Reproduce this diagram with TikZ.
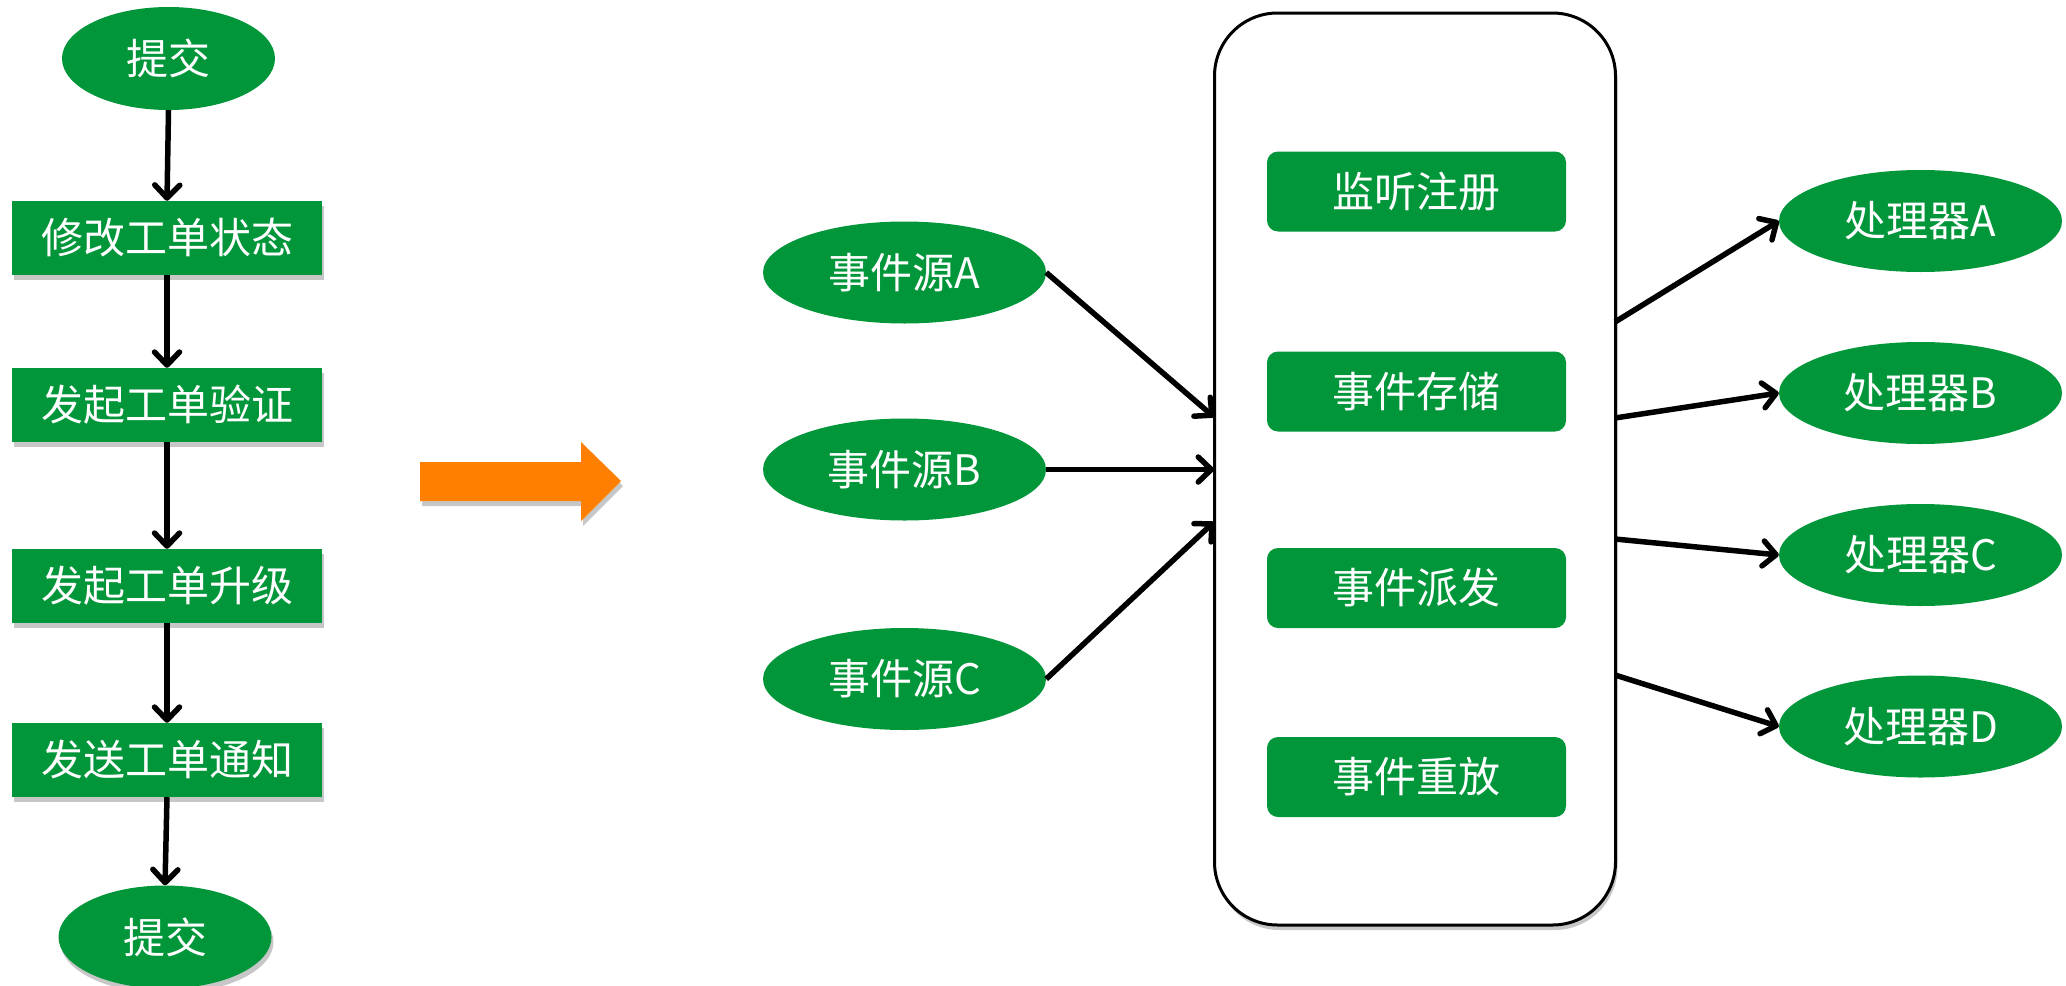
\documentclass[tikz,border=0pt]{standalone}
\usepackage{fontspec}
\newfontfamily\cjk{Noto Sans CJK SC}
\usetikzlibrary{shapes.geometric,arrows.meta,shadows}
\definecolor{grn}{RGB}{0,150,57}
\definecolor{org}{RGB}{255,127,0}
\begin{document}
\begin{tikzpicture}[x=1pt,y=-1pt,
 lbl/.style={text=white,font=\cjk\fontsize{42}{50}\selectfont,inner sep=0pt},
 oval/.style={lbl,ellipse,fill=grn,minimum width=283pt,minimum height=102pt},
 endoval/.style={lbl,ellipse,fill=grn,minimum width=213pt,minimum height=103pt},
 softshadow/.style={drop shadow={shadow xshift=2pt,shadow yshift=-5pt,opacity=0.22,fill=black}},
 flowbox/.style={lbl,rectangle,fill=grn,minimum width=310pt,minimum height=74pt,softshadow},
 modbox/.style={lbl,rectangle,rounded corners=11pt,fill=grn,minimum width=299pt,minimum height=80pt},
 busbox/.style={draw=black,line width=3pt,rounded corners=63pt,fill=white,minimum width=401pt,minimum height=912pt,softshadow},
 link/.style={line width=5.5pt,-{Straight Barb[length=13pt,width=25pt,round]}},
]
\useasboundingbox (0,0) rectangle (2066,985);

% left flow
\node[endoval] (s1) at (168.5,58.5) {提交};
\node[flowbox] (r1) at (167,238) {修改工单状态};
\node[flowbox] (r2) at (167,405) {发起工单验证};
\node[flowbox] (r3) at (167,586) {发起工单升级};
\node[flowbox] (r4) at (167,760) {发送工单通知};
\node[endoval,softshadow] (s2) at (165,937) {提交};
\draw[link] (s1.south) -- (r1.north);
\draw[link] (r1.south) -- (r2.north);
\draw[link] (r2.south) -- (r3.north);
\draw[link] (r3.south) -- (r4.north);
\draw[link] (r4.south) -- (s2.north);

% big orange arrow
\path[fill=org,softshadow] (420,462) -- (581,462) -- (581,442) -- (621,481)
  -- (581,521) -- (581,501) -- (420,501) -- cycle;

% central bus
\node[busbox] (bus) at (1415,469) {};
\node[modbox] (m1) at (1416.5,191.5) {监听注册};
\node[modbox] (m2) at (1416.5,391.5) {事件存储};
\node[modbox] (m3) at (1416.5,588) {事件派发};
\node[modbox] (m4) at (1416.5,777) {事件重放};

% sources
\node[oval] (ea) at (904.5,272.5) {事件源A};
\node[oval] (eb) at (904.5,469.5) {事件源B};
\node[oval] (ec) at (904.5,679) {事件源C};

% processors
\node[oval] (pa) at (1920.5,221) {处理器A};
\node[oval] (pb) at (1920.5,393) {处理器B};
\node[oval] (pc) at (1920.5,555) {处理器C};
\node[oval] (pd) at (1920.5,726.5) {处理器D};

% connection points on the bus border
\coordinate (ina) at (1214,417);
\coordinate (inb) at (1214,469.5);
\coordinate (inc) at (1214,522);
\coordinate (outa) at (1615,322);
\coordinate (outb) at (1615,418);
\coordinate (outc) at (1615,539);
\coordinate (outd) at (1615,675);

\draw[link] (ea.east) -- (ina);
\draw[link] (eb.east) -- (inb);
\draw[link] (ec.east) -- (inc);
\draw[link] (outa) -- (pa.west);
\draw[link] (outb) -- (pb.west);
\draw[link] (outc) -- (pc.west);
\draw[link] (outd) -- (pd.west);
\end{tikzpicture}
\end{document}
